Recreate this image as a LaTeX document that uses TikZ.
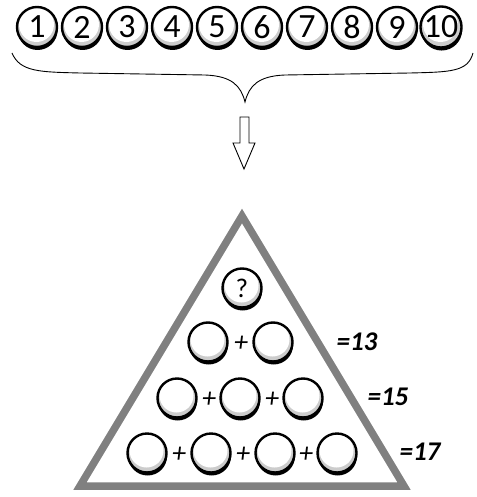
\documentclass[tikz,border=0pt]{standalone}
\usepackage{fontspec}
\setmainfont{Carlito}
\usetikzlibrary{shadows}
\tikzset{
  ball/.style={circle, draw=black, line width=2.4pt, fill=white, minimum size=#1, inner sep=0pt,
    drop shadow={shadow xshift=0.6pt, shadow yshift=-3pt, fill=black, opacity=1},
    path picture={
      \fill[gray!40] (path picture bounding box.center) circle (#1/2);
      \fill[white] ([xshift=-0.5pt,yshift=2.5pt]path picture bounding box.center) circle (#1/2-2.5pt);
    }},
  ball/.default=40pt,
  numtxt/.style={font=\fontsize{34}{34}\selectfont},
  plus/.style={font=\itshape\fontsize{28}{28}\selectfont, inner sep=0pt},
  sumlbl/.style={font=\bfseries\itshape\fontsize{27}{27}\selectfont, inner sep=0pt},
}
\begin{document}
\begin{tikzpicture}[x=1pt,y=-1pt]
\useasboundingbox (0,0) rectangle (476,497);
% top balls
\foreach \i/\x in {1/37,2/82,3/127,4/172,5/217,6/262,7/307,8/352,9/397,10/441}{
  \node[ball=40pt, numtxt] (n\i) at (\x,27) {\i};
}
% brace
\draw[line width=0.9pt] (12,53) .. controls (20,72) and (40,72) .. (80,73)
  -- (205,75) .. controls (232,76) and (241,86) .. (245,102)
  .. controls (249,86) and (258,76) .. (285,75)
  -- (410,73) .. controls (450,72) and (468,72) .. (473,53);
% arrow
\draw[line width=0.9pt, fill=white] (240,117) -- (249,117) -- (249,143) -- (255,143) -- (244,169) -- (233,143) -- (240,143) -- cycle;
% triangle
\draw[draw=gray, line width=7.5pt, line join=miter] (242,216) -- (404,486) -- (80,486) -- cycle;
% triangle balls
\node[ball=39pt, font=\fontsize{27}{27}\selectfont] (q) at (242,288) {?};
\node[ball=39pt] (a1) at (208,342) {};
\node[ball=39pt] (a2) at (273,342) {};
\node[ball=39pt] (b1) at (177,398) {};
\node[ball=39pt] (b2) at (240,398) {};
\node[ball=39pt] (b3) at (303,398) {};
\node[ball=39pt] (c1) at (147,453) {};
\node[ball=39pt] (c2) at (211,453) {};
\node[ball=39pt] (c3) at (275,453) {};
\node[ball=39pt] (c4) at (337,453) {};
% plus signs
\node[plus] (pa) at (241,344) {+};
\node[plus] (pb1) at (209,400) {+};
\node[plus] (pb2) at (272,400) {+};
\node[plus] (pc1) at (179,455) {+};
\node[plus] (pc2) at (243,455) {+};
\node[plus] (pc3) at (306,455) {+};
% sums
\node[sumlbl] (s13) at (357,342) {=13};
\node[sumlbl] (s15) at (388,397) {=15};
\node[sumlbl] (s17) at (420,452) {=17};
\end{tikzpicture}
\end{document}
